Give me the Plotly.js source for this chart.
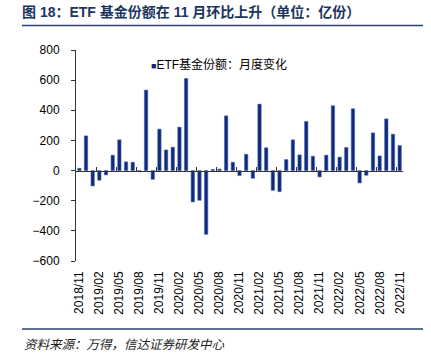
<!DOCTYPE html>
<html>
<head>
<meta charset="utf-8">
<script src="https://cdn.plot.ly/plotly-3.0.1.min.js"></script>
<style>html,body{margin:0;padding:0;background:#fff;}#chart{width:431px;height:360px;}</style>
</head>
<body>
<div id="chart"></div>
<script>
const months = ["2018/11","2018/12","2019/01","2019/02","2019/03","2019/04","2019/05","2019/06","2019/07","2019/08","2019/09","2019/10","2019/11","2019/12",
"2020/01","2020/02","2020/03","2020/04","2020/05","2020/06","2020/07","2020/08","2020/09","2020/10","2020/11","2020/12",
"2021/01","2021/02","2021/03","2021/04","2021/05","2021/06","2021/07","2021/08","2021/09","2021/10","2021/11","2021/12",
"2022/01","2022/02","2022/03","2022/04","2022/05","2022/06","2022/07","2022/08","2022/09","2022/10","2022/11"];
const etfShareChange = [15, 230, -102, -64, -29, 102, 204, 58, 55, -7, 534, -58, 275, 137, 155, 288, 611, -208, -197, -423,
 8, 10, 363, 55, -33, 108, -51, 441, 151, -131, -140, 73, 204, 104, 326, 95, -42, 102, 430, 89, 153, 410, -82, -31,
 250, 97, 343, 241, 166];
const tickLabels = ["2018/11","2019/02","2019/05","2019/08","2019/11","2020/02","2020/05","2020/08","2020/11",
"2021/02","2021/05","2021/08","2021/11","2022/02","2022/05","2022/08","2022/11"];
const yTicks = [-600, -400, -200, 0, 200, 400, 600, 800];
const seriesName = "ETF基金份额：月度变化";
const titleText = "图 18：ETF 基金份额在 11 月环比上升（单位：亿份）";
const sourceText = "资料来源：万得，信达证券研发中心";

const W = 431, H = 360;
const L = 76, R = 28, T = 50, B = 99;
const pw = W - L - R, ph = H - T - B;
const px = x => (x - L) / pw;
const py = y => (H - B - y) / ph;

const boundaryTicks = [];
for (let i = 2; i < months.length - 1; i += 3) boundaryTicks.push(i + 0.5);

const font = "Liberation Sans, Arial, Noto Sans CJK SC, sans-serif";
const navy = "#0d2a7c";

const traces = [
  {type: "bar", x: months, y: etfShareChange, marker: {color: navy, line: {width: 0.6, color: "#4a63a8"}},
   width: 0.5, showlegend: false, hoverinfo: "x+y"},
  {type: "scatter", mode: "markers", x: [null], y: [null], xaxis: "x2",
   name: '<span style="color:' + navy + ';font-size:9px">■</span>' + seriesName,
   marker: {symbol: "square", size: 1, color: "rgba(255,255,255,0)", line: {width: 0}}, showlegend: true, hoverinfo: "skip"}
];

const layout = {
  width: W, height: H,
  margin: {l: L, r: R, t: T, b: B},
  paper_bgcolor: "#fff", plot_bgcolor: "#fff",
  font: {family: font, size: 12, color: "#000"},
  title: {text: "<b>" + titleText + "</b>", xref: "container", yref: "container",
          x: 22 / W, xanchor: "left", y: 1 - 12 / H, yanchor: "middle",
          font: {family: "Liberation Sans, Noto Sans CJK SC, sans-serif", size: 14, color: "#1c3560"}},
  xaxis: {type: "category", range: [-0.5, months.length - 0.5], tickmode: "array", tickvals: tickLabels, ticktext: tickLabels,
          tickangle: -90, ticks: "", showline: false, showgrid: false, zeroline: false, ticklabelstandoff: 7,
          tickfont: {family: font, size: 12, color: "#000"}},
  xaxis2: {overlaying: "x", anchor: "free", position: 600 / 1400, side: "bottom", type: "linear",
           range: [-0.5, months.length - 0.5], tickmode: "array", tickvals: boundaryTicks, showticklabels: false,
           ticks: "inside", ticklen: 4, tickcolor: "#333", showline: true, linecolor: "#333", linewidth: 1,
           showgrid: false, zeroline: false},
  yaxis: {range: [-600, 800], tickmode: "array", tickvals: yTicks, ticks: "outside", ticklen: 4, tickcolor: "#333",
          showline: true, linecolor: "#333", linewidth: 1, showgrid: false, zeroline: false, ticklabelstandoff: 9,
          tickfont: {family: font, size: 12, color: "#000"}},
  legend: {x: px(111), xanchor: "left", y: 1.0, yanchor: "top", bgcolor: "rgba(0,0,0,0)",
           font: {family: "Liberation Sans, Noto Sans CJK SC, sans-serif", size: 12, color: "#000"},
           itemwidth: 30, tracegroupgap: 0},
  shapes: [
    {type: "line", xref: "paper", yref: "paper", x0: px(22), x1: px(423), y0: py(25.5), y1: py(25.5),
     line: {color: "#2b4170", width: 1.5}},
    {type: "line", xref: "paper", yref: "paper", x0: px(22), x1: px(423), y0: py(329), y1: py(329),
     line: {color: "#2b4170", width: 1.5}}
  ],
  annotations: [
    {text: "<i>" + sourceText + "</i>", xref: "paper", yref: "paper", x: px(22), y: py(343), xanchor: "left", yanchor: "middle",
     showarrow: false, font: {family: "Noto Sans CJK SC, sans-serif", size: 12.5, color: "#222"}}
  ]
};

Plotly.newPlot("chart", traces, layout, {displayModeBar: false, staticPlot: true});
</script>
</body>
</html>
